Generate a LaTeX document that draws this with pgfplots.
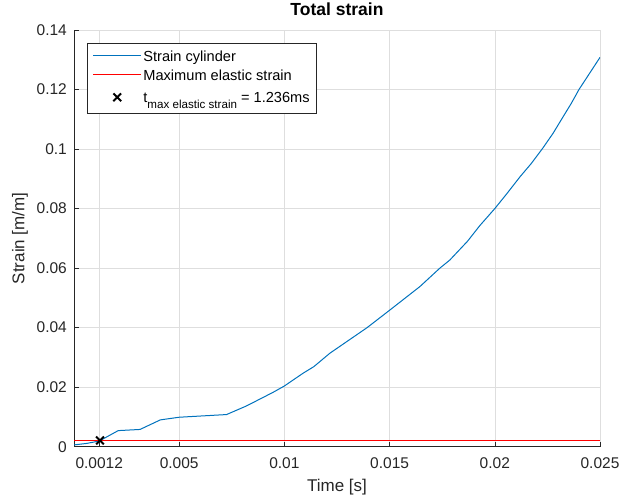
\documentclass[border=0pt]{standalone}
\usepackage{pgfplots}
\pgfplotsset{compat=1.18}
\usepackage{fontspec}
\setmainfont{Liberation Sans}
\definecolor{mblue}{rgb}{0,0.447,0.741}
\definecolor{axgray}{rgb}{0.15,0.15,0.15}
\definecolor{gridgray}{rgb}{0.87,0.87,0.87}
\begin{document}
\begin{tikzpicture}[x=1bp,y=1bp]
\useasboundingbox (-74,-52.3) rectangle (545,446.7);
\begin{axis}[
  at={(0,0)}, anchor=south west,
  scale only axis, width=526bp, height=416.7bp,
  xmin=0, xmax=0.025, ymin=0, ymax=0.14,
  xtick={0.0012,0.005,0.01,0.015,0.02,0.025},
  xticklabels={0.0012,0.005,0.01,0.015,0.02,0.025},
  ytick={0,0.02,0.04,0.06,0.08,0.1,0.12,0.14},
  yticklabels={0,0.02,0.04,0.06,0.08,0.1,0.12,0.14},
  scaled ticks=false,
  /pgf/number format/assume math mode=true,
  axis x line*=bottom, axis y line*=left,
  axis line style={-, draw=axgray, line width=0.6bp},
  tick align=inside, major tick length=5bp,
  tick style={draw=axgray, line width=0.6bp},
  grid=major, grid style={draw=gridgray, line width=0.6bp},
  ticklabel style={font=\fontsize{15.5bp}{18bp}\selectfont, text=axgray},
  xticklabel style={inner sep=0pt, yshift=-11bp},
  yticklabel style={inner sep=0pt, xshift=-7bp},
  title={Total strain},
  title style={font=\bfseries\fontsize{17.5bp}{20bp}\selectfont, text=black, at={(axis description cs:0.5,1)}, anchor=south, inner sep=0pt, yshift=8bp},
  xlabel={Time [s]},
  xlabel style={font=\fontsize{17bp}{20bp}\selectfont, text=axgray, at={([yshift=-32bp]axis description cs:0.5,0)}, anchor=north, inner sep=0pt},
  ylabel={Strain [m/m]},
  ylabel style={font=\fontsize{17bp}{20bp}\selectfont, text=axgray, at={([xshift=-46bp]axis description cs:0,0.5)}, anchor=south, rotate=0, inner sep=0pt},
  legend style={at={(rel axis cs:0.0253,0.968)}, anchor=north west, draw=axgray, line width=0.6bp,
    font=\fontsize{14.6bp}{17bp}\selectfont, inner xsep=5bp, inner ysep=3.2bp,
    nodes={inner sep=1.5bp, text depth=0pt, minimum height=19bp}},
  legend cell align=left,
]
\addplot[color=mblue, line width=1bp,
  legend image code/.code={\draw[draw=mblue, line width=1.3bp] (0bp,0.5bp) -- (48bp,0.5bp);}] coordinates {
(0,0.0006) (0.0006,0.0011) (0.0012,0.0019) (0.0021,0.0054) (0.00314,0.0058)
(0.0041,0.0090) (0.005,0.0099) (0.00725,0.0108) (0.0082,0.0137) (0.00947,0.0183)
(0.01,0.0204) (0.01089,0.0247) (0.0114,0.0269) (0.01216,0.0314) (0.01393,0.0400)
(0.01501,0.0459) (0.01644,0.0538) (0.01739,0.0600) (0.01786,0.0627) (0.0187,0.0690)
(0.01929,0.0743) (0.02,0.0800) (0.02056,0.0849) (0.0212,0.0907) (0.02174,0.0952)
(0.02225,0.1000) (0.02277,0.1053) (0.02325,0.1109) (0.02364,0.1154) (0.024,0.1200)
(0.02451,0.1255) (0.025,0.1308)
};
\addlegendentry{Strain cylinder}
\addplot[color=red, line width=1bp,
  legend image code/.code={\draw[draw=red, line width=1.3bp] (0bp,0.5bp) -- (48bp,0.5bp);}] coordinates {(0,0.0021) (0.025,0.0021)};
\addlegendentry{Maximum elastic strain}
\addplot[only marks, mark=x, mark size=5.5bp, line width=2bp, color=black,
  legend image code/.code={\draw[draw=black, line width=2bp] plot[mark=x, mark size=5.5bp] coordinates {(24bp,0bp)};}] coordinates {(0.001236,0.0021)};
\addlegendentry[minimum height=25bp]{t\raisebox{-6bp}{\fontsize{11.6bp}{13bp}\selectfont max elastic strain} = 1.236ms}
\end{axis}
\end{tikzpicture}
\end{document}
